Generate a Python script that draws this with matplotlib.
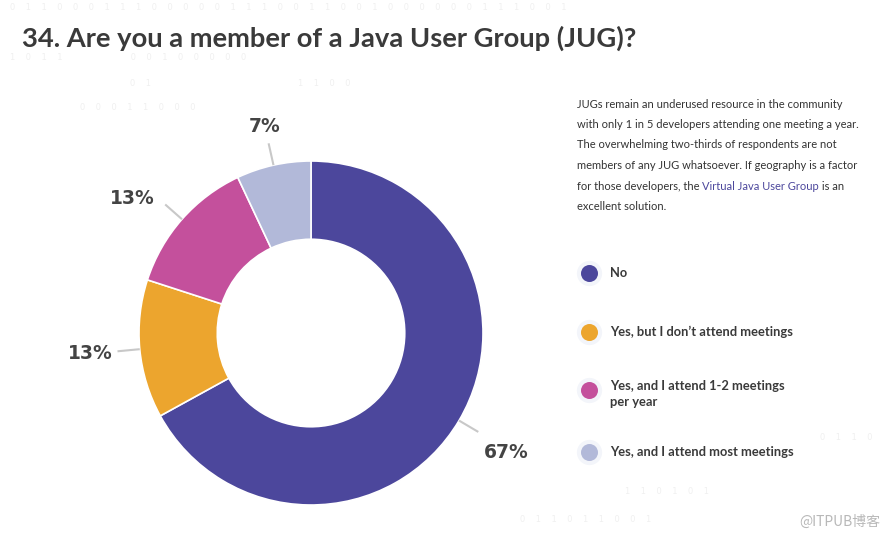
import matplotlib.pyplot as plt
import numpy as np

# ================= DATA =================
categories = ["No", "Yes, but I don\u2019t attend meetings",
              "Yes, and I attend 1-2 meetings\nper year", "Yes, and I attend most meetings"]
shares = [67, 13, 13, 7]
pct_labels = ["67%", "13%", "13%", "7%"]
colors = ["#4c479c", "#eca52e", "#c4509c", "#b2b9d9"]

title = "34. Are you a member of a Java User Group (JUG)?"
para_lines = [
    "JUGs remain an underused resource in the community",
    "with only 1 in 5 developers attending one meeting a year.",
    "The overwhelming two-thirds of respondents are not",
    "members of any JUG whatsoever. If geography is a factor",
]
para_last = ("for those developers, the ", "Virtual Java User Group", " is an")
para_end = "excellent solution."

W, H = 890, 539
fig = plt.figure(figsize=(W / 100, H / 100), dpi=100)
fig.patch.set_facecolor("white")


def fx(px):
    return px / W


def fy(py):
    return 1 - py / H


# faint binary background rows
bg_rows = [
    (8, 10, "0    1    1    0    0    0    1    1    1    0    0    0    0    0    1    1    1    0    0    1    1    0    0    1    0    0    0    0    0    0    1    1    1    0    0    1"),
    (58, 10, "1    0    1    1                          0    0    1    0    0    0    0    0"),
    (83, 130, "0    1                                                        1    1    0    0"),
    (108, 80, "0    0    0    1    1    0    0    0"),
    (492, 625, "1    1    0    1    0    1"),
    (519, 520, "0    1    1    0    1    1    0    0    1"),
    (437, 820, "0    1    1    0"),
]
for py, px, s in bg_rows:
    fig.text(fx(px), fy(py), s, fontsize=6, color="#f0f0f0", va="center", ha="left")

# title
fig.text(fx(22), fy(38), title, fontsize=19.7, fontweight="bold", color="#3a3a3a",
         family="Lato", va="center", ha="left")

# donut
cx, cy, R = 311, 333, 172
half = 200
ax = fig.add_axes([fx(cx - half), fy(cy + half), 2 * half / W, 2 * half / H])
wedges, _ = ax.pie(shares, colors=colors, startangle=90, counterclock=False, radius=1.0,
                   wedgeprops=dict(width=0.455, edgecolor="white", linewidth=1.2))
lim = half / R
ax.set_xlim(-lim, lim)
ax.set_ylim(-lim, lim)
ax.set_aspect("equal")
ax.axis("off")

label_r = [1.33, 1.29, 1.30, 1.23]
label_shift = [-1.0, 0.0, 4.5, 0.0]  # degrees, nudges label off the wedge middle
for w, lab, lr, sh in zip(wedges, pct_labels, label_r, label_shift):
    mid = np.deg2rad((w.theta1 + w.theta2) / 2)
    c, s = np.cos(mid), np.sin(mid)
    ax.plot([1.0 * c, 1.13 * c], [1.0 * s, 1.13 * s], color="#c8c8c8", lw=1.5,
            solid_capstyle="butt")
    la = mid + np.deg2rad(sh)
    ax.text(lr * np.cos(la), lr * np.sin(la), lab, fontsize=13.5, fontweight="bold",
            color="#444444", ha="center", va="center", family="DejaVu Sans")

# paragraph
tx = 577
ly = 104
fs = 8.0
for line in para_lines:
    fig.text(fx(tx), fy(ly), line, fontsize=fs, color="#333333", family="Lato",
             va="center", ha="left")
    ly += 20.5
t1 = fig.text(fx(tx), fy(ly), para_last[0], fontsize=fs, color="#333333", family="Lato",
              va="center", ha="left")
fig.canvas.draw()
r = fig.canvas.get_renderer()
bb = t1.get_window_extent(r)
t2 = fig.text(bb.x1 / W, fy(ly), para_last[1], fontsize=fs, color="#4c479c", family="Lato",
              va="center", ha="left")
bb2 = t2.get_window_extent(r)
fig.text(bb2.x1 / W, fy(ly), para_last[2], fontsize=fs, color="#333333", family="Lato",
         va="center", ha="left")
ly += 20.5
fig.text(fx(tx), fy(ly), para_end, fontsize=fs, color="#333333", family="Lato",
         va="center", ha="left")

# legend
leg_y = [273, 332, 390, 452]
lax = fig.add_axes([0, 0, 1, 1], facecolor="none")
lax.set_xlim(0, W)
lax.set_ylim(H, 0)
lax.axis("off")
for y, cat, col in zip(leg_y, categories, colors):
    lax.scatter([589], [y], s=330, color="#f3f5fa", zorder=1, linewidths=0)
    lax.scatter([589], [y], s=150, color=col, zorder=2, linewidths=0)
    multi = "\n" in cat
    fig.text(fx(610), fy(y - 10 if multi else y), cat, fontsize=9.3, fontweight="bold",
             color="#3a3a3a", family="Lato", va="top" if multi else "center", ha="left",
             linespacing=1.4)

# watermark
fig.text(fx(880), fy(522), "@ITPUB博客", fontsize=10, color="#b8b8b8",
         family=["Noto Sans CJK SC", "DejaVu Sans"], va="center", ha="right")

fig.savefig("out.png", dpi=100, facecolor="white")
